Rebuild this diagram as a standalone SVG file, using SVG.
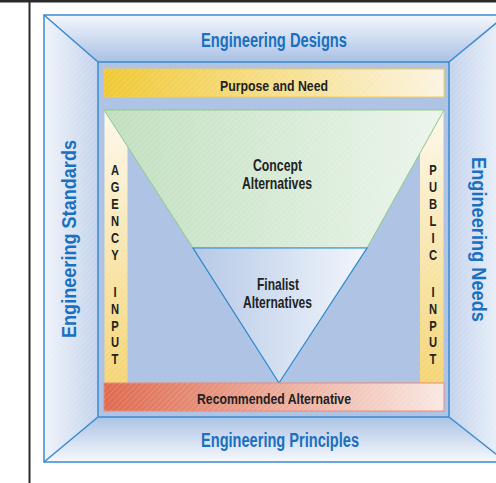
<svg xmlns="http://www.w3.org/2000/svg" width="496" height="483" viewBox="0 0 496 483">
<defs>
<linearGradient id="gTop" x1="0" y1="0" x2="0" y2="1"><stop offset="0" stop-color="#f5f8fd"/><stop offset="1" stop-color="#a9c0e4"/></linearGradient>
<linearGradient id="gBot" x1="0" y1="0" x2="0" y2="1"><stop offset="0" stop-color="#acc3e5"/><stop offset="1" stop-color="#f7f9fd"/></linearGradient>
<linearGradient id="gLeft" x1="0" y1="0" x2="1" y2="0"><stop offset="0" stop-color="#f0f4fb"/><stop offset="1" stop-color="#c3d3ec"/></linearGradient>
<linearGradient id="gRight" x1="0" y1="0" x2="1" y2="0"><stop offset="0" stop-color="#c3d3ec"/><stop offset="1" stop-color="#eef3fb"/></linearGradient>
<linearGradient id="gPurpose" x1="0" y1="0" x2="1" y2="0"><stop offset="0" stop-color="#f0c832"/><stop offset="1" stop-color="#fcf4e2"/></linearGradient>
<linearGradient id="gInput" x1="0" y1="0" x2="0" y2="1"><stop offset="0" stop-color="#fdf8ec"/><stop offset="1" stop-color="#f4d574"/></linearGradient>
<linearGradient id="gRec" x1="0" y1="0" x2="1" y2="0"><stop offset="0" stop-color="#de6a4e"/><stop offset="1" stop-color="#f9e8e2"/></linearGradient>
<linearGradient id="gGreen" x1="0" y1="0" x2="1" y2="0"><stop offset="0" stop-color="#c0dfbe"/><stop offset="1" stop-color="#ecf5ec"/></linearGradient>
<linearGradient id="gBlueTri" x1="0" y1="0" x2="1" y2="0"><stop offset="0" stop-color="#b6c9e6"/><stop offset="1" stop-color="#f2f6fc"/></linearGradient>
<pattern id="hatch" width="4" height="4" patternUnits="userSpaceOnUse" patternTransform="rotate(45)"><rect width="1" height="4" fill="#ffffff" fill-opacity="0.15"/></pattern>
</defs>
<style>
.eng{font-family:"Liberation Sans",Arial,sans-serif;font-weight:bold;font-size:19.5px;fill:#1a70c0;}
.lbl{font-family:"Liberation Sans",Arial,sans-serif;font-weight:bold;fill:#222222;}
.ltr{font-family:"Liberation Sans",Arial,sans-serif;font-weight:bold;font-size:14px;fill:#222222;text-anchor:middle;}
.edge{stroke:#3a8ad0;stroke-width:1.5;fill:none;}
</style>
<rect x="0" y="0" width="496" height="483" fill="#ffffff"/>
<g id="frame">
<polygon points="44,15 506,15 449,62 98,62" fill="url(#gTop)"/>
<polygon points="44,15 98,62 98,417 44,462" fill="url(#gLeft)"/>
<polygon points="44,15 98,62 98,417 44,462" fill="url(#hatch)"/>
<polygon points="506,15 449,62 449,417 506,462" fill="url(#gRight)"/>
<polygon points="506,15 449,62 449,417 506,462" fill="url(#hatch)"/>
<polygon points="98,417 449,417 506,462 44,462" fill="url(#gBot)"/>
<rect x="98" y="62" width="351" height="355" fill="#afc4e4"/>
<rect x="44" y="15" width="462" height="447" class="edge"/>
<line x1="44" y1="15" x2="98" y2="62" class="edge"/>
<line x1="506" y1="15" x2="449" y2="62" class="edge"/>
<line x1="44" y1="462" x2="98" y2="417" class="edge"/>
<line x1="506" y1="462" x2="449" y2="417" class="edge"/>
<rect x="98" y="62" width="351" height="355" class="edge"/>
</g>
<g id="borders">
<rect x="0" y="0" width="496" height="2.5" fill="#2a2a2a"/>
<rect x="28.5" y="0" width="2" height="483" fill="#2a2a2a"/>
</g>
<g id="engineering-designs"><text class="eng" x="274" y="47" text-anchor="middle" textLength="146" lengthAdjust="spacingAndGlyphs">Engineering Designs</text></g>
<g id="engineering-principles"><text class="eng" x="280" y="447" text-anchor="middle" textLength="158" lengthAdjust="spacingAndGlyphs">Engineering Principles</text></g>
<g id="engineering-standards"><text class="eng" transform="translate(76,239) rotate(-90)" x="0" y="0" text-anchor="middle" textLength="198" lengthAdjust="spacingAndGlyphs">Engineering Standards</text></g>
<g id="engineering-needs"><text class="eng" transform="translate(472,239.5) rotate(90)" x="0" y="0" text-anchor="middle" textLength="165" lengthAdjust="spacingAndGlyphs">Engineering Needs</text></g>
<g id="purpose-and-need">
<rect x="104" y="69" width="340" height="28" fill="url(#gPurpose)" stroke="#f0cc50" stroke-width="1"/>
<rect x="104" y="69" width="340" height="28" fill="url(#hatch)"/>
<text class="lbl" x="274" y="91" font-size="15.5" text-anchor="middle" textLength="108" lengthAdjust="spacingAndGlyphs">Purpose and Need</text>
</g>
<g id="agency-input">
<rect x="104.5" y="110" width="23" height="273" fill="url(#gInput)"/>
<rect x="104.5" y="110" width="23" height="273" fill="url(#hatch)"/>
<g transform="translate(115,0) scale(0.8,1)">
<text class="ltr" x="0" y="175">A</text>
<text class="ltr" x="0" y="192">G</text>
<text class="ltr" x="0" y="209">E</text>
<text class="ltr" x="0" y="226">N</text>
<text class="ltr" x="0" y="243">C</text>
<text class="ltr" x="0" y="260">Y</text>
<text class="ltr" x="0" y="297">I</text>
<text class="ltr" x="0" y="314">N</text>
<text class="ltr" x="0" y="331">P</text>
<text class="ltr" x="0" y="347">U</text>
<text class="ltr" x="0" y="364">T</text>
</g>
</g>
<g id="public-input">
<rect x="420" y="110" width="23.5" height="273" fill="url(#gInput)"/>
<rect x="420" y="110" width="23.5" height="273" fill="url(#hatch)"/>
<g transform="translate(433,0) scale(0.8,1)">
<text class="ltr" x="0" y="175">P</text>
<text class="ltr" x="0" y="192">U</text>
<text class="ltr" x="0" y="209">B</text>
<text class="ltr" x="0" y="226">L</text>
<text class="ltr" x="0" y="243">I</text>
<text class="ltr" x="0" y="260">C</text>
<text class="ltr" x="0" y="297">I</text>
<text class="ltr" x="0" y="314">N</text>
<text class="ltr" x="0" y="331">P</text>
<text class="ltr" x="0" y="347">U</text>
<text class="ltr" x="0" y="364">T</text>
</g>
</g>
<g id="concept-alternatives">
<polygon points="104,110 444,110 367,248 193,248" fill="url(#gGreen)" stroke="#8cc888" stroke-width="1"/>
<polygon points="104,110 444,110 367,248 193,248" fill="url(#hatch)"/>
<text class="lbl" x="277.5" y="170.5" font-size="16.5" text-anchor="middle" textLength="49" lengthAdjust="spacingAndGlyphs">Concept</text>
<text class="lbl" x="277" y="189" font-size="16.5" text-anchor="middle" textLength="70" lengthAdjust="spacingAndGlyphs">Alternatives</text>
</g>
<g id="finalist-alternatives">
<polygon points="193,248 367,248 279,383" fill="url(#gBlueTri)" stroke="#2a86cc" stroke-width="1.2"/>
<text class="lbl" x="278" y="290" font-size="16.5" text-anchor="middle" textLength="42" lengthAdjust="spacingAndGlyphs">Finalist</text>
<text class="lbl" x="277.5" y="308" font-size="16.5" text-anchor="middle" textLength="69" lengthAdjust="spacingAndGlyphs">Alternatives</text>
</g>
<g id="recommended-alternative">
<rect x="104" y="383" width="340" height="28" fill="url(#gRec)" stroke="#e88a76" stroke-width="1"/>
<rect x="104" y="383" width="340" height="28" fill="url(#hatch)"/>
<text class="lbl" x="274" y="404" font-size="15.5" text-anchor="middle" textLength="154" lengthAdjust="spacingAndGlyphs">Recommended Alternative</text>
</g>
</svg>
